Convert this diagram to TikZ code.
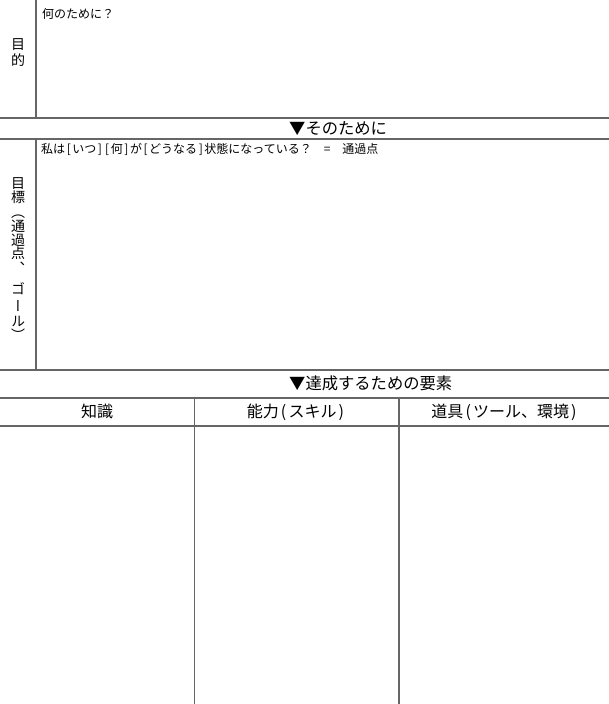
\documentclass[tikz,border=0pt]{standalone}
\usepackage{fontspec}
\setmainfont{Noto Sans CJK JP}
\newfontfamily\tatefont[RawFeature=+vert]{Noto Sans CJK JP}
\newcommand{\hankaku}[1]{\makebox[0.6em]{#1}}
\begin{document}
\begin{tikzpicture}[x=1pt,y=-1pt,line join=round,line cap=rect,
	waku/.style={draw=black!60,line width=1.6pt},
	midashi/.style={font=\fontsize{16.3}{16.3}\selectfont,anchor=west,inner sep=0pt,text height=0.88em,text depth=0.12em},
	komidashi/.style={font=\fontsize{16}{16}\selectfont,inner sep=0pt,text height=0.88em,text depth=0.12em},
	setsumei/.style={font=\fontsize{12}{12}\selectfont,anchor=west,inner sep=0pt,text height=0.88em,text depth=0.12em},
	tate/.style={font=\tatefont\fontsize{14}{14}\selectfont,inner sep=0pt,text height=0.88em,text depth=0.12em}]
	\useasboundingbox (0,0) rectangle (608,704);
	% waku
	\draw[waku] (36,0)--(36,118) (0,118)--(608,118);
	\draw[waku] (0,139)--(608,139) (36,139)--(36,370) (0,370)--(608,370);
	\draw[waku] (0,398)--(608,398) (0,426)--(608,426);
	\draw[waku] (194.5,398)--(194.5,704) (399,398)--(399,704);
	% mokuteki
	\node[setsumei] (nanno) at (42,14.5) {何のために？};
	\node[tate] (moku1) at (18,46) {目};
	\node[tate] (teki) at (18,62) {的};
	% mokuhyou
	\node[midashi] (sonotame) at (289,130.5) {▼そのために};
	\node[setsumei] (watashi) at (41,149.5) {私は\hankaku{[}いつ\hankaku{]}\hankaku{[}何\hankaku{]}が\hankaku{[}どうなる\hankaku{]}状態になっている？　=　通過点};
	\foreach \c/\y [count=\i] in {目/185,標/199,︵/214,通/228,過/242,点/255,︑/270,ゴ/291,ー/308,ル/323,︶/337}
		\node[tate] (hyou\i) at (18,\y) {\c};
	% youso
	\node[midashi] (tassei) at (289,385.5) {▼達成するための要素};
	\node[komidashi] (chishiki) at (97,414) {知識};
	\node[komidashi] (nouryoku) at (296.5,414) {能力\hankaku{(}スキル\hankaku{)}};
	\node[komidashi] (dougu) at (505,414) {道具\hankaku{(}ツール、環境\hankaku{)}};
\end{tikzpicture}
\end{document}
